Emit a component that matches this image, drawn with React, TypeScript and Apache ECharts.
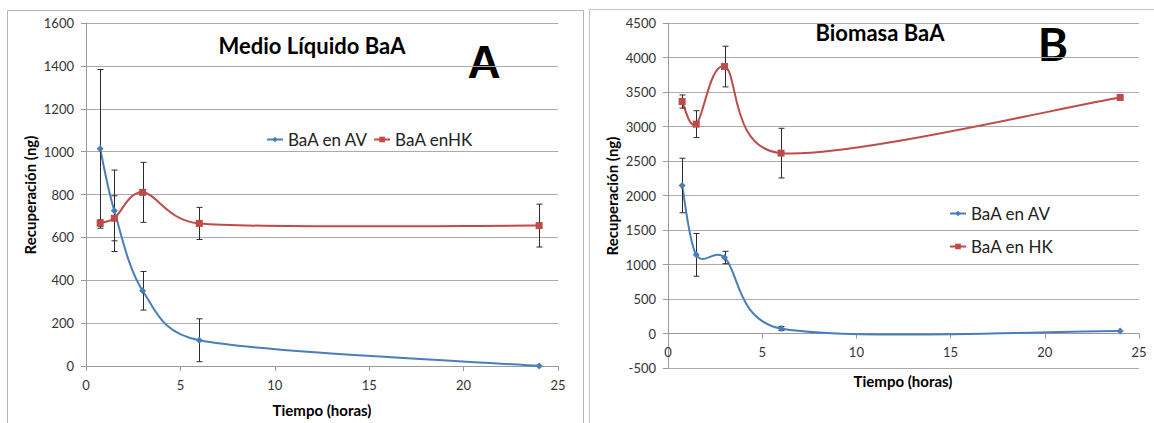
import React, { useEffect, useRef } from "react";
import * as echarts from "echarts";

// Sampling times (hours)
const timeHours = [0.75, 1.5, 3, 6, 24];

// Panel A – liquid medium
const liquidAv = [1013, 724, 351, 120, 0];
const liquidAvErr = [370, 190, 90, 100, 0];
const liquidHk = [667, 689, 810, 665, 655];
const liquidHkErr = [15, 105, 140, 75, 100];

// Panel B – biomass
const biomassAv = [2145, 1140, 1101, 72, 35];
const biomassAvErr = [395, 310, 90, 30, 0];
const biomassHk = [3362, 3034, 3869, 2614, 3420];
const biomassHkErr = [95, 195, 295, 360, 0];

// Axis ranges
const timeRange = { min: 0, max: 25, step: 5 };
const liquidRange = { min: 0, max: 1600, step: 200 };
const biomassRange = { min: -500, max: 4500, step: 500 };

const seriesNamesA = ["BaA en AV", "BaA enHK"];
const seriesNamesB = ["BaA en AV", "BaA en HK"];

const BLUE = "#4A7EBB";
const RED = "#BE4B48";
const GRID = "#ababab";
const AXIS = "#9a9a9a";
const TEXT = "#333333";
const FONT = "Lato";

const pairs = (vals: number[]) => timeHours.map((t, i) => [t, vals[i]]);
const errRows = (vals: number[], errs: number[]) =>
  timeHours
    .map((t, i) => [t, vals[i] - errs[i], vals[i] + errs[i]])
    .filter((_, i) => errs[i] > 0);

// Marker-only line series (also feeds the legend icon)
const markerSeries = (name: string, vals: number[], color: string, symbol: string, idx: number) => ({
  type: "line",
  name,
  xAxisIndex: idx,
  yAxisIndex: idx,
  data: pairs(vals),
  symbol,
  symbolSize: 7,
  showAllSymbol: true,
  lineStyle: { color, width: 2, opacity: 0 },
  itemStyle: { color },
  z: 5,
});

// Spreadsheet-style smoothed curve: cubic Bézier segments whose control
// points follow the neighbouring points (1/6 tension, capped at half a segment).
const curveSeries = (vals: number[], color: string, idx: number) => ({
  type: "custom",
  xAxisIndex: idx,
  yAxisIndex: idx,
  silent: true,
  z: 3,
  encode: { x: 0, y: 1 },
  data: pairs(vals),
  renderItem: (params: any, api: any) => {
    const i = params.dataIndex;
    const n = timeHours.length;
    if (i >= n - 1) return { type: "group", children: [] };
    const pt = (k: number) => api.coord([timeHours[k], vals[k]]);
    const p0 = pt(Math.max(i - 1, 0));
    const p1 = pt(i);
    const p2 = pt(i + 1);
    const p3 = pt(Math.min(i + 2, n - 1));
    const d = (a: number[], b: number[]) => Math.hypot(a[0] - b[0], a[1] - b[1]);
    const d02 = d(p0, p2);
    const d12 = d(p1, p2);
    const d13 = d(p1, p3);
    let f0 = 1 / 6;
    let f1 = 1 / 6;
    if (d02 / 6 >= d12 / 2 && d02 > 0) f0 = d12 / 2 / d02;
    if (d13 / 6 >= d12 / 2 && d13 > 0) f1 = d12 / 2 / d13;
    return {
      type: "bezierCurve",
      shape: {
        x1: p1[0],
        y1: p1[1],
        x2: p2[0],
        y2: p2[1],
        cpx1: p1[0] + f0 * (p2[0] - p0[0]),
        cpy1: p1[1] + f0 * (p2[1] - p0[1]),
        cpx2: p2[0] - f1 * (p3[0] - p1[0]),
        cpy2: p2[1] - f1 * (p3[1] - p1[1]),
      },
      style: { stroke: color, lineWidth: 2, fill: null },
    };
  },
});

const errorSeries = (rows: number[][], idx: number) => ({
  type: "custom",
  xAxisIndex: idx,
  yAxisIndex: idx,
  silent: true,
  z: 4,
  encode: { x: 0, y: [1, 2] },
  data: rows,
  renderItem: (_params: any, api: any) => {
    const x = api.value(0);
    const top = api.coord([x, api.value(2)]);
    const bot = api.coord([x, api.value(1)]);
    const px = Math.round(top[0]) + 0.5;
    const cap = 3;
    const style = { stroke: "#2b2b2b", lineWidth: 1 };
    return {
      type: "group",
      children: [
        { type: "line", shape: { x1: px, y1: top[1], x2: px, y2: bot[1] }, style },
        { type: "line", shape: { x1: px - cap, y1: top[1], x2: px + cap, y2: top[1] }, style },
        { type: "line", shape: { x1: px - cap, y1: bot[1], x2: px + cap, y2: bot[1] }, style },
      ],
    };
  },
});

const xAxisFor = (idx: number, offset: number) => ({
  type: "value",
  gridIndex: idx,
  min: timeRange.min,
  max: timeRange.max,
  interval: timeRange.step,
  offset,
  axisLine: { show: true, onZero: false, lineStyle: { color: AXIS } },
  axisTick: { show: true, length: 5, lineStyle: { color: AXIS } },
  axisLabel: { margin: 12, fontFamily: FONT, fontSize: 13, color: TEXT },
  splitLine: { show: false },
});

const yAxisFor = (idx: number, r: { min: number; max: number; step: number }) => ({
  type: "value",
  gridIndex: idx,
  min: r.min,
  max: r.max,
  interval: r.step,
  axisLine: { show: true, onZero: false, lineStyle: { color: AXIS } },
  axisTick: { show: true, length: 5, lineStyle: { color: AXIS } },
  axisLabel: {
    margin: 12,
    fontFamily: FONT,
    fontSize: 13,
    color: TEXT,
    formatter: (v: number) => String(v),
  },
  splitLine: { show: true, lineStyle: { color: GRID, width: 1 } },
});

const legendText = { fontFamily: FONT, fontSize: 17, color: "#222" };

export default function App() {
  const ref = useRef<HTMLDivElement>(null);

  useEffect(() => {
    if (!ref.current) return;
    const chart = echarts.init(ref.current, null, { renderer: "svg" });
    const gridBHeight = 345;
    const zeroShift =
      -gridBHeight * (0 - biomassRange.min) / (biomassRange.max - biomassRange.min);
    chart.setOption({
      animation: false,
      backgroundColor: "#ffffff",
      grid: [
        { left: 86, top: 23, width: 472, height: 343 },
        { left: 668, top: 23, width: 471, height: gridBHeight },
      ],
      xAxis: [xAxisFor(0, 0), xAxisFor(1, zeroShift)],
      yAxis: [yAxisFor(0, liquidRange), yAxisFor(1, biomassRange)],
      legend: [
        {
          data: seriesNamesA,
          orient: "horizontal",
          left: 261,
          top: 126,
          itemWidth: 16,
          itemHeight: 7,
          itemGap: 5,
          textStyle: legendText,
          lineStyle: { opacity: 1, width: 2 },
        },
        {
          data: seriesNamesB,
          orient: "vertical",
          left: 944,
          top: 200,
          itemWidth: 16,
          itemHeight: 7,
          itemGap: 16,
          textStyle: legendText,
          lineStyle: { opacity: 1, width: 2 },
        },
      ],
      series: [
        curveSeries(liquidAv, BLUE, 0),
        curveSeries(liquidHk, RED, 0),
        markerSeries(seriesNamesA[0], liquidAv, BLUE, "diamond", 0),
        markerSeries(seriesNamesA[1], liquidHk, RED, "rect", 0),
        errorSeries(errRows(liquidAv, liquidAvErr), 0),
        errorSeries(errRows(liquidHk, liquidHkErr), 0),
        curveSeries(biomassAv, BLUE, 1),
        curveSeries(biomassHk, RED, 1),
        markerSeries(seriesNamesB[0], biomassAv, BLUE, "diamond", 1),
        markerSeries(seriesNamesB[1], biomassHk, RED, "rect", 1),
        errorSeries(errRows(biomassAv, biomassAvErr), 1),
        errorSeries(errRows(biomassHk, biomassHkErr), 1),
      ],
      graphic: [
        // panel frames
        {
          type: "rect",
          silent: true,
          z: -1,
          shape: { x: 7.5, y: 10.5, width: 576, height: 430 },
          style: { fill: null, stroke: "#b4b4b4", lineWidth: 1 },
        },
        {
          type: "rect",
          silent: true,
          z: -1,
          shape: { x: 589.5, y: 9.5, width: 580, height: 430 },
          style: { fill: null, stroke: "#c4c4c4", lineWidth: 1 },
        },
        // panel A texts
        {
          type: "text",
          x: 312,
          y: 45,
          style: { text: "Medio Líquido BaA", font: `bold 22px ${FONT}`, fill: "#000", align: "center", verticalAlign: "middle" },
        },
        {
          type: "text",
          x: 484,
          y: 62,
          style: { text: "A", font: "bold 46px 'Liberation Sans'", fill: "#000", align: "center", verticalAlign: "middle" },
        },
        {
          type: "text",
          x: 30,
          y: 195,
          rotation: Math.PI / 2,
          style: { text: "Recuperación (ng)", font: `bold 15px ${FONT}`, fill: "#000", align: "center", verticalAlign: "middle" },
        },
        {
          type: "text",
          x: 322,
          y: 410,
          style: { text: "Tiempo (horas)", font: `bold 15px ${FONT}`, fill: "#000", align: "center", verticalAlign: "middle" },
        },
        // panel B texts
        {
          type: "text",
          x: 880,
          y: 32,
          style: { text: "Biomasa BaA", font: `bold 22px ${FONT}`, fill: "#000", align: "center", verticalAlign: "middle" },
        },
        {
          type: "text",
          x: 1053,
          y: 43,
          style: { text: "B", font: `bold 46px ${FONT}`, fill: "#000", align: "center", verticalAlign: "middle" },
        },
        {
          type: "text",
          x: 612,
          y: 196,
          rotation: Math.PI / 2,
          style: { text: "Recuperación (ng)", font: `bold 15px ${FONT}`, fill: "#000", align: "center", verticalAlign: "middle" },
        },
        {
          type: "text",
          x: 903,
          y: 381,
          style: { text: "Tiempo (horas)", font: `bold 15px ${FONT}`, fill: "#000", align: "center", verticalAlign: "middle" },
        },
      ],
    });
    return () => chart.dispose();
  }, []);

  return (
    <div
      ref={ref}
      style={{ position: "fixed", left: 0, top: 0, width: 1154, height: 423, background: "#fff" }}
    />
  );
}
